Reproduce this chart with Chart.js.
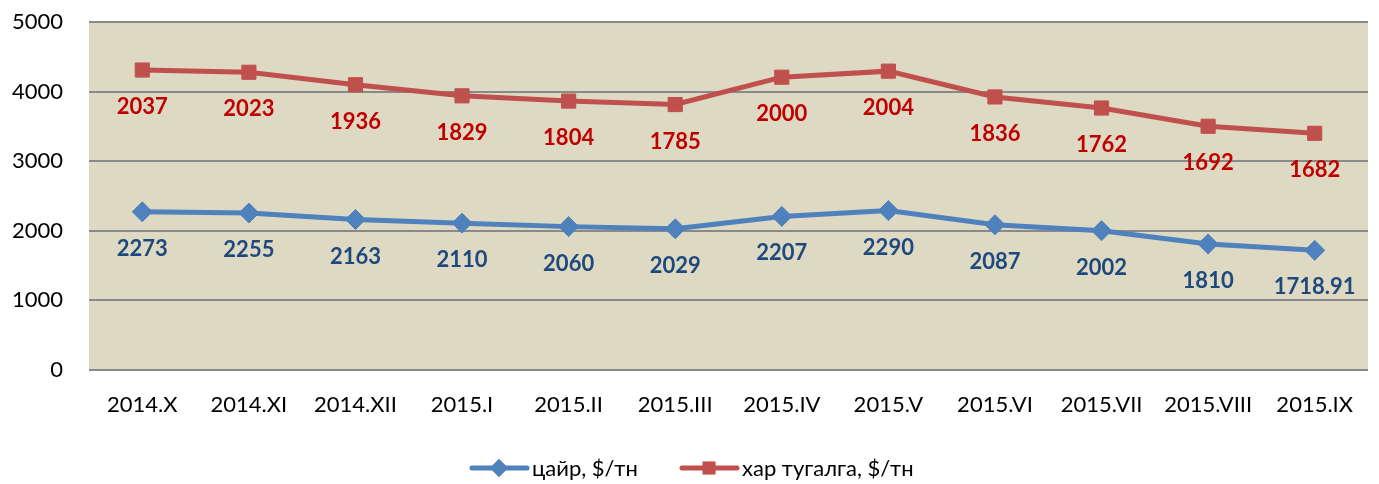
<!DOCTYPE html>
<html>
<head>
<meta charset="utf-8">
<script src="https://cdn.jsdelivr.net/npm/chart.js@4"></script>
<style>
  html, body { margin: 0; padding: 0; background: #fff; }
  #wrap { width: 1379px; height: 484px; position: relative; }
</style>
</head>
<body>
<div id="wrap"><canvas id="priceChart"></canvas></div>
<script>
const months = ['2014.X', '2014.XI', '2014.XII', '2015.I', '2015.II', '2015.III',
                '2015.IV', '2015.V', '2015.VI', '2015.VII', '2015.VIII', '2015.IX'];
const zincPrice = [2273, 2255, 2163, 2110, 2060, 2029, 2207, 2290, 2087, 2002, 1810, 1718.91];
const leadPrice = [2037, 2023, 1936, 1829, 1804, 1785, 2000, 2004, 1836, 1762, 1692, 1682];
const yTicks = [0, 1000, 2000, 3000, 4000, 5000];

const FONT = "Lato, 'Noto Sans', sans-serif";

// beige plot background
const plotBg = {
    id: 'plotBg',
    beforeDraw(chart) {
        const a = chart.chartArea;
        const ctx = chart.ctx;
        ctx.save();
        ctx.fillStyle = '#DDD9C3';
        ctx.fillRect(a.left, a.top, a.right - a.left, a.bottom - a.top);
        ctx.restore();
    }
};

// value labels under each point
const valueLabels = {
    id: 'valueLabels',
    afterDatasetsDraw(chart) {
        const ctx = chart.ctx;
        ctx.save();
        ctx.font = 'bold 22px ' + FONT;
        ctx.textAlign = 'center';
        ctx.textBaseline = 'middle';
        chart.data.datasets.forEach((ds, i) => {
            const meta = chart.getDatasetMeta(i);
            ctx.fillStyle = ds.labelColor;
            meta.data.forEach((pt, j) => {
                ctx.fillText(String(ds.data[j]), pt.x, pt.y + 37);
            });
        });
        ctx.restore();
    }
};

// legend at the bottom: line with marker + text
const bottomLegend = {
    id: 'bottomLegend',
    afterDraw(chart) {
        const ctx = chart.ctx;
        const y = 468;
        const starts = [472, 682];
        ctx.save();
        ctx.font = '22px ' + FONT;
        ctx.textBaseline = 'middle';
        ctx.textAlign = 'left';
        chart.data.datasets.forEach((ds, i) => {
            const x0 = starts[i];
            ctx.strokeStyle = ds.borderColor;
            ctx.lineWidth = 5;
            ctx.lineCap = 'round';
            ctx.beginPath();
            ctx.moveTo(x0, y);
            ctx.lineTo(x0 + 55, y);
            ctx.stroke();
            ctx.fillStyle = ds.borderColor;
            Chart.helpers.drawPoint(ctx, { pointStyle: ds.pointStyle, radius: 9, borderWidth: 0, rotation: 0 }, x0 + 27, y);
            ctx.fill();
            ctx.fillStyle = '#000';
            ctx.fillText(ds.label, x0 + 60, y + 1);
        });
        ctx.restore();
    }
};

const ctx = document.getElementById('priceChart').getContext('2d');
new Chart(ctx, {
    type: 'line',
    data: {
        labels: months,
        datasets: [{
            label: 'цайр, $/тн',
            data: zincPrice,
            borderColor: '#4F81BD',
            backgroundColor: '#4F81BD',
            labelColor: '#1F497D',
            borderWidth: 5,
            pointStyle: 'rectRot',
            pointRadius: 10,
            pointBorderWidth: 1,
            fill: false,
            tension: 0
        }, {
            label: 'хар тугалга, $/тн',
            data: leadPrice,
            borderColor: '#C0504D',
            backgroundColor: '#C0504D',
            labelColor: '#C00000',
            borderWidth: 5,
            pointStyle: 'rect',
            pointRadius: 10,
            pointBorderWidth: 1,
            fill: false,
            tension: 0
        }]
    },
    options: {
        responsive: true,
        maintainAspectRatio: false,
        animation: false,
        layout: { padding: { top: 22, right: 5, left: 0, bottom: 0 } },
        plugins: {
            legend: { display: false },
            tooltip: { enabled: false }
        },
        scales: {
            x: {
                offset: true,
                grid: { display: false, drawTicks: false },
                border: { display: false },
                ticks: { color: '#000', font: { family: FONT, size: 22 }, padding: 22, maxRotation: 0 },
                afterFit(s) {
                    s.height = 114;
                    s.paddingLeft = 0;
                    s.paddingRight = 0;
                }
            },
            y: {
                stacked: true,
                min: 0,
                max: 5000,
                afterBuildTicks(s) { s.ticks = yTicks.map(v => ({ value: v })); },
                grid: { color: '#898989', lineWidth: 2, drawTicks: false },
                border: { display: false },
                ticks: { color: '#000', font: { family: FONT, size: 22 }, padding: 26, callback: v => String(v) },
                afterFit(s) {
                    s.width = 89;
                    s.paddingTop = 0;
                    s.paddingBottom = 0;
                }
            }
        }
    },
    plugins: [plotBg, valueLabels, bottomLegend]
});
</script>
</body>
</html>
